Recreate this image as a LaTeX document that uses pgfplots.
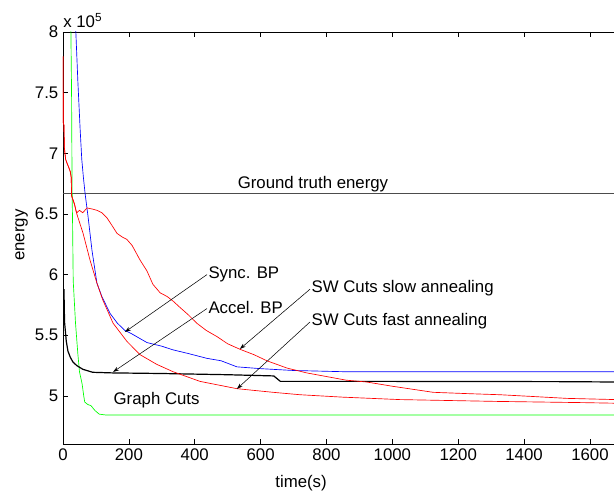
\documentclass[border=0pt]{standalone}
\usepackage{fontspec}
\setmainfont{Liberation Sans}
\usepackage{pgfplots}
\pgfplotsset{compat=1.18}
\usetikzlibrary{calc,arrows.meta}

\begin{document}
\begin{tikzpicture}
\begin{axis}[
    name=ax,
    scale only axis,
    width=413.25pt, height=309pt,
    xmin=0, xmax=1673,
    ymin=4.604, ymax=8,
    xtick={0,200,...,1600},
    ytick={5,5.5,6,6.5,7,7.5,8},
    axis x line*=box,
    axis y line*=left,
    axis line style={black, line width=0.6pt},
    tick style={black, line width=0.5pt},
    tickwidth=3.5pt,
    tick align=inside,
    font=\fontsize{12.6}{15}\selectfont,
    /pgf/number format/assume math mode=true,
    /pgf/number format/1000 sep={},
    xlabel={time(s)},
    ylabel={energy},
    every axis x label/.style={at={(rel axis cs:0.432,0)}, anchor=center, yshift=-29pt},
    every axis y label/.style={at={(rel axis cs:0,0.507)}, xshift=-31pt, anchor=center, rotate=90},
]
% ground truth energy
\addplot[black!70, line width=0.6pt] coordinates {(0,6.673)(1700,6.673)};

% Graph Cuts
\addplot[green, line width=0.5pt] coordinates {
  (22,8.6)(24,8.0)(26,7.5)(27,7.0)(28,6.6)(29,6.45)(30,6.2)(31,5.95)
  (33,5.85)(38,5.6)(45,5.35)(50,5.2)(58,5.1)(63,5.0)(66,4.95)(75,4.93)
  (85,4.92)(97,4.88)(110,4.85)(130,4.843)(1680,4.843)};

% Accel. BP
\addplot[black, line width=0.9pt] coordinates {
  (3,5.88)(4,5.7)(5,5.6)(10,5.45)(15,5.37)(22,5.32)(30,5.28)(42,5.25)
  (60,5.22)(90,5.195)(150,5.19)(300,5.185)(500,5.175)(640,5.165)(660,5.12)
  (1000,5.12)(1500,5.118)(1680,5.115)};

% Sync. BP
\addplot[blue, line width=0.5pt] coordinates {
  (36,8.3)(39,8.0)(45,7.6)(52,7.2)(57,6.95)(62,6.8)(67,6.67)(76,6.48)
  (88,6.2)(103,5.93)(118,5.82)(143,5.68)(165,5.6)(188,5.54)(210,5.51)
  (255,5.44)(300,5.41)(334,5.38)(380,5.35)(437,5.31)(480,5.29)(528,5.24)
  (600,5.225)(699,5.21)(850,5.2)(1680,5.2)};

% SW Cuts slow annealing
\addplot[red, line width=0.5pt] coordinates {
  (0,7.8)(0.5,7.5)(1,7.25)(3,7.23)(4,7.05)(8,6.95)(12,6.92)(18,6.88)
  (22,6.85)(25,6.8)(26,6.65)(30,6.62)(35,6.58)(40,6.52)(42,6.51)
  (50,6.53)(60,6.51)(73,6.55)(90,6.54)(103,6.53)(118,6.51)(133,6.47)
  (150,6.40)(164,6.34)(180,6.31)(194,6.29)(210,6.24)(234,6.12)(255,6.03)
  (273,5.92)(295,5.85)(316,5.82)(335,5.78)(355,5.73)(380,5.67)(406,5.6)
  (435,5.54)(467,5.49)(500,5.43)(537,5.385)(580,5.34)(619,5.29)
  (680,5.23)(740,5.19)(800,5.16)(860,5.13)(922,5.115)(1000,5.08)
  (1124,5.03)(1220,5.02)(1327,5.01)(1430,4.995)(1530,4.98)(1680,4.97)};

% SW Cuts fast annealing
\addplot[red, line width=0.5pt] coordinates {
  (0,7.8)(0.5,7.5)(1,7.25)(3,7.23)(4,7.05)(8,6.95)(12,6.92)(18,6.88)
  (22,6.85)(25,6.8)(26,6.65)(30,6.62)(35,6.58)(42,6.5)(61,6.34)(82,6.12)
  (103,5.93)(121,5.79)(152,5.6)(194,5.45)(234,5.34)(285,5.26)(334,5.2)
  (416,5.12)(528,5.06)(638,5.03)(720,5.01)(850,4.99)(1023,4.97)(1317,4.955)
  (1579,4.945)(1680,4.94)};

\node[anchor=base] at (axis cs:759,6.706) {Ground truth energy};
\node[anchor=west, inner sep=1pt] at (axis cs:437,6.00) {Sync. BP};
\node[anchor=west, inner sep=1pt] at (axis cs:437,5.725) {Accel. BP};
\node[anchor=west, inner sep=1pt] at (axis cs:750,5.885) {SW Cuts slow annealing};
\node[anchor=west, inner sep=1pt] at (axis cs:750,5.615) {SW Cuts fast annealing};
\node[anchor=west, inner sep=1pt] at (axis cs:149,4.967) {Graph Cuts};

\draw[line width=0.4pt, -{Stealth[length=4.5pt,width=3pt]}] (axis cs:437,6.00) -- (axis cs:188,5.527);
\draw[line width=0.4pt, -{Stealth[length=4.5pt,width=3pt]}] (axis cs:437,5.72) -- (axis cs:152,5.198);
\draw[line width=0.4pt, -{Stealth[length=4.5pt,width=3pt]}] (axis cs:750,5.88) -- (axis cs:537,5.387);
\draw[line width=0.4pt, -{Stealth[length=4.5pt,width=3pt]}] (axis cs:750,5.61) -- (axis cs:528,5.058);
\end{axis}
\node[anchor=south west, inner sep=0pt, font=\fontsize{12.6}{15}\selectfont] at ($(ax.north west)+(0pt,3pt)$) {x 10\textsuperscript{5}};
\pgfresetboundingbox
\path[use as bounding box] ($(ax.south west)+(-47.25pt,-38.25pt)$) rectangle ($(ax.north east)+(0pt,24pt)$);
\end{tikzpicture}
\end{document}
